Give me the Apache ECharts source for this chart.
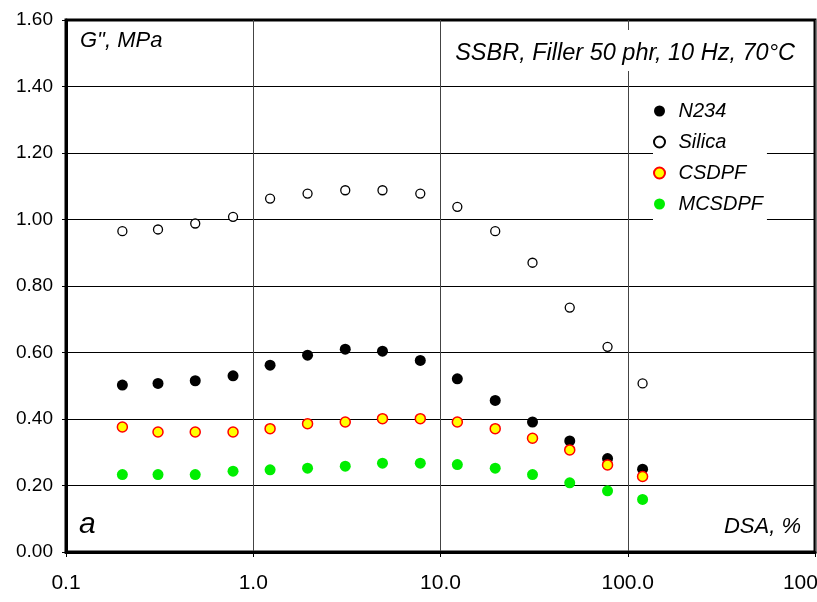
<!DOCTYPE html>
<html>
<head>
<meta charset="utf-8">
<script src="https://cdn.jsdelivr.net/npm/echarts@6/dist/echarts.min.js"></script>
<style>
  html, body { margin: 0; padding: 0; background: #fff; }
  #mycontainer { width: 817px; height: 602px; }
</style>
</head>
<body>
<div id="mycontainer"></div>
<script>
// strain amplitude (DSA, %) - log axis
var strain = [0.2, 0.31, 0.49, 0.78, 1.23, 1.95, 3.1, 4.9, 7.8, 12.3, 19.6, 31, 49, 78, 120];

// G'' values, MPa
var n234   = [0.502, 0.507, 0.515, 0.530, 0.562, 0.592, 0.610, 0.604, 0.576, 0.521, 0.456, 0.391, 0.334, 0.281, 0.249];
var silica = [0.965, 0.970, 0.988, 1.008, 1.063, 1.078, 1.088, 1.088, 1.078, 1.038, 0.965, 0.870, 0.735, 0.617, 0.507];
var csdpf  = [0.376, 0.361, 0.361, 0.361, 0.371, 0.386, 0.391, 0.401, 0.401, 0.391, 0.371, 0.342, 0.307, 0.262, 0.227];
var mcsdpf = [0.233, 0.233, 0.233, 0.243, 0.247, 0.252, 0.258, 0.267, 0.267, 0.263, 0.252, 0.233, 0.208, 0.184, 0.158];

var fontFam = 'Liberation Sans, Arial, sans-serif';

function pairs(ys) {
    return strain.map(function (x, i) { return [x, ys[i]]; });
}

var dom = document.getElementById('mycontainer');
var chart = echarts.init(dom, null, { renderer: 'canvas' });

var option = {
    animation: false,
    backgroundColor: '#fff',
    title: [
        {
            text: 'G", MPa',
            left: 80, top: 30,
            padding: 0,
            textStyle: { fontSize: 22, fontStyle: 'italic', fontWeight: 'normal', color: '#000', fontFamily: fontFam }
        },
        {
            // white box breaks the grid line behind the text
            text: 'SSBR, Filler 50 phr, 10 Hz, 70°C',
            right: 18, top: 30,
            padding: [12, 4, 6, 4],
            backgroundColor: '#fff',
            textStyle: { fontSize: 23.5, fontStyle: 'italic', fontWeight: 'normal', color: '#000', fontFamily: fontFam }
        },
        {
            text: 'a',
            left: 79, top: 510,
            padding: 0,
            textStyle: { fontSize: 30, fontStyle: 'italic', fontWeight: 'normal', color: '#000', fontFamily: fontFam }
        },
        {
            text: 'DSA, %',
            right: 16, top: 516,
            padding: 0,
            textStyle: { fontSize: 22, fontStyle: 'italic', fontWeight: 'normal', color: '#000', fontFamily: fontFam }
        }
    ],
    legend: {
        orient: 'vertical',
        left: 653, top: 93,
        padding: [8, 4, 9, 0],
        backgroundColor: '#fff',
        itemWidth: 20,
        itemHeight: 11,
        itemGap: 11,
        textStyle: { fontSize: 20, fontStyle: 'italic', color: '#000', fontFamily: fontFam, padding: [0, 0, 0, 4] },
        data: ['N234', 'Silica', 'CSDPF', 'MCSDPF']
    },
    grid: {
        left: 66, right: 2, top: 20, bottom: 50,
        outerBoundsMode: 'none',
        containLabel: false,
        show: true,
        borderColor: '#000',
        borderWidth: 3
    },
    xAxis: {
        type: 'log',
        logBase: 10,
        min: 0.1,
        max: 1000,
        axisLine: { show: true, onZero: false, lineStyle: { color: '#000', width: 3 } },
        axisTick: { show: true, length: 5, lineStyle: { color: '#000', width: 1 } },
        minorTick: { show: false },
        splitLine: { show: true, lineStyle: { color: '#444', width: 1 } },
        axisLabel: {
            margin: 21,
            fontSize: 21,
            color: '#000',
            fontFamily: fontFam,
            hideOverlap: false,
            formatter: function (v) { return Number(v).toFixed(1); }
        }
    },
    yAxis: {
        type: 'value',
        min: 0,
        max: 1.6,
        interval: 0.2,
        axisLine: { show: true, lineStyle: { color: '#000', width: 3 } },
        axisTick: { show: true, length: 4, lineStyle: { color: '#000', width: 1 } },
        splitLine: { show: true, lineStyle: { color: '#000', width: 1 } },
        axisLabel: {
            margin: 13,
            fontSize: 19,
            color: '#000',
            fontFamily: fontFam,
            formatter: function (v) { return v.toFixed(2); }
        }
    },
    series: [
        {
            name: 'N234',
            type: 'scatter',
            symbol: 'circle',
            symbolSize: 11,
            itemStyle: { color: '#000', opacity: 1 },
            data: pairs(n234)
        },
        {
            name: 'Silica',
            type: 'scatter',
            symbol: 'circle',
            symbolSize: 9,
            itemStyle: { color: '#fff', borderColor: '#000', borderWidth: 1.3, opacity: 1 },
            data: pairs(silica)
        },
        {
            name: 'CSDPF',
            type: 'scatter',
            symbol: 'circle',
            symbolSize: 10,
            itemStyle: { color: '#ffff00', borderColor: '#ff0000', borderWidth: 1.5, opacity: 1 },
            data: pairs(csdpf)
        },
        {
            name: 'MCSDPF',
            type: 'scatter',
            symbol: 'circle',
            symbolSize: 11,
            itemStyle: { color: '#00ee00', opacity: 1 },
            data: pairs(mcsdpf)
        }
    ]
};

chart.setOption(option);
</script>
</body>
</html>
